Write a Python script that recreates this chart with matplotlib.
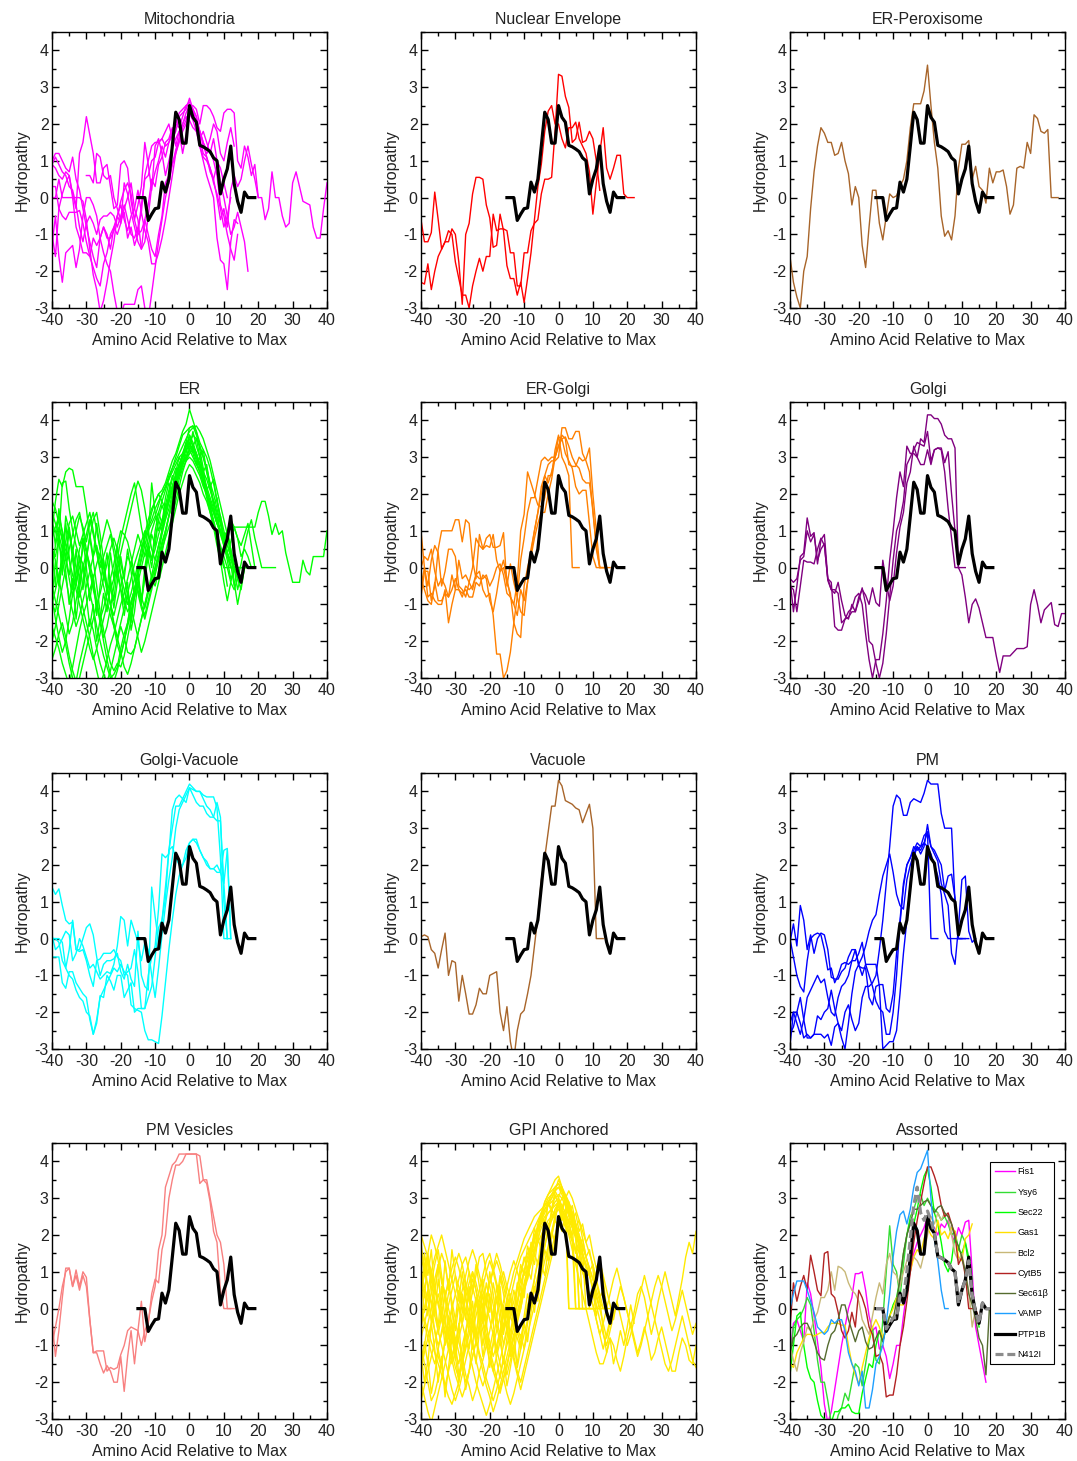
import matplotlib
matplotlib.use('Agg')
import matplotlib.pyplot as plt
from matplotlib.ticker import MultipleLocator
import numpy as np

plt.rcParams['font.family'] = ['Liberation Sans', 'DejaVu Sans']
plt.rcParams['axes.unicode_minus'] = False

# reference profile drawn in every panel (x starts at -15)
ptp1b_start = -15
ptp1b = [0, 0, 0, -0.62, -0.45, -0.3, -0.28, 0.42, 0.15, 0.5, 1.4, 2.32, 2.12, 1.48, 1.48,
         2.5, 2.18, 2.05, 1.42, 1.38, 1.32, 1.25, 1.08, 1.0, 0.1, 0.5, 0.78, 1.4, 0.38, -0.1,
         -0.4, 0.15, 0.0, 0.0, 0.0]
n412i = [0, 0, 0, -0.55, -0.4, -0.25, -0.25, 0.35, 0.3, 1.0, 1.9, 2.8, 3.3, 2.6, 2.4,
         2.65, 2.4, 2.05, 1.42, 1.38, 1.32, 1.25, 1.08, 1.0, 0.15, 0.5, 0.78, 1.3, 0.38, -0.1,
         -0.4, 0.15, 0, 0, 0]

# each profile: (first residue position, hydropathy values at 1-residue steps)
mito = [
    (-40, [1.0, 1.2, 1.2, 1.0, 0.8, 0.7, 1.1, 0.5, 0.2, -0.3, -0.8, -1.2, -1.6, -1.9, -1.1, -0.8, -1.0, -1.4, -0.8, -0.5,
           -0.2, -0.6, -0.9, -0.5, -0.3, 0.2, -0.4, 0.6, 1.0, 1.4, 1.5, 1.5, 1.6, 1.8, 2.0, 1.6, 1.8, 2.2, 2.3, 2.4,
           2.7, 2.4, 2.0, 1.6, 1.2, 1.1, 0.7, 0.5, 0.9, 0.4, 0.0, -0.5, -1.0, -0.8, -0.4, -0.8, -1.2, -2.0]),
    (-40, [0.3, 0.3, -0.3, -0.5, -0.6, -0.4, -0.4, -0.4, -0.35, -0.7, -1.2, -1.6, -1.9, -2.2, -2.4, -1.8, -1.5, -1.0, -0.8, -1.0,
           -0.7, -0.3, 0.0, 0.4, -0.3, -0.6, -1.4, -1.2, -0.5, 0.3, 0.7, 1.0, 1.4, 1.1, 1.5, 1.8, 2.0, 1.9, 2.2, 2.5,
           2.6, 2.3, 2.0, 1.8, 1.4, 1.2, 1.3, 1.0, 0.6, -0.2, -0.5, -1.0, -1.4, -1.7, -1.0]),
    (-40, [-1.3, -0.5, -1.6, -2.3, -1.5, -1.4, -1.3, -1.9, -1.4, -0.5, 0.0, 0.0, -0.2, -0.5, -1.1, -1.5, -1.8, -2.0, -2.6, -3.1,
           -3.2, -2.9, -2.9, -2.9, -2.9, -2.5, -2.4, -3.0, -3.3, -2.6, -1.9, -1.2, -0.6, 0.0, 0.4, 0.9, 1.3, 1.6, 2.0, 2.3,
           2.5, 2.4, 2.2, 1.8, 1.5, 1.1, 0.8, 0.4, 0.1, -0.3, -0.8, -0.5, 0.0]),
    (-40, [0.9, 0.8, 0.6, 0.5, 0.7, 0.6, 0.1, -0.3, 1.2, 1.5, 2.2, 1.7, 1.2, 0.4, 0.4, 0.8, 0.9, 0.3, -0.3, -0.2,
           0.9, 1.0, 0.8, -0.1, -0.6, -0.2, 0.3, 1.5, 0.9, 0.2, 1.4, 1.6, 1.2, 0.6, 1.0, 1.4, 1.6, 1.8, 1.2, 1.7,
           2.3, 2.1, 1.8, 1.4, 1.0, 0.6, 0.3, 0.0, -1.1, -1.7, -1.8, -2.5, -1.2, -0.6, -0.7]),
    (-40, [-1.0, -1.6, -0.3, 0.1, 0.4, 0.6, 0.0, -0.8, -1.1, -1.5, -1.5, -1.6, -1.1, -1.3, -1.1, -0.8, -1.1, -1.1, -0.9, -0.5,
           -0.1, 0.2, 0.4, 0.1, -0.6, -1.0, -0.2, 0.5, 0.6, 1.0, 1.1, 1.5, 1.6, 1.4, 1.5, 1.7, 2.0, 2.3, 2.4, 2.5,
           2.5, 2.5, 2.4, 2.0, 2.5, 2.5, 2.4, 2.2, 1.9, 1.8, 2.3, 2.4, 2.4, 2.3, 1.0, 0.8, 1.4, 1.1, 0.6, 0.9,
           0.0, 0.0, -0.6, -0.3, 0.7, 0.0, 0.0, -0.5, -0.8, -0.7, 0.4, 0.7, 0.3, -0.1, -0.15, -0.2, -0.8, -1.1, -1.1, -0.3, 0.4]),
    (-40, [0.0, 0.0, 0.5, 0.0, 0.0, 0.0, 0.0, 0.0, 0.0, -0.1, -0.6, -1.4, -2.1, -2.5, -3.1, -2.8, -2.3, -1.7, -1.2, -0.5,
           -0.7, 0.4, 0.1, -0.4, -0.8, -1.2, -1.4, -0.6, -0.2, 0.5, 0.3, 0.9, 1.1, 1.5, 1.6, 1.9, 1.4, 1.8, 2.0, 2.2,
           2.1, 1.9, 1.8, 1.6, 1.8, 1.5, 1.2, 1.6, 1.0, 0.8, 0.4, 0.0]),
    (-40, [0.9, 1.1, 0.9, 0.7, 0.6, 0.3, 0.2, -0.2, -0.8, -1.2, -0.7, -0.5, -0.7, -1.0, -0.6, -0.5, -0.5, -0.4, -0.5, -0.8,
           -0.5, -0.2, -0.6, -1.0, -1.1, -0.8, -0.4, -0.9, -1.2, -1.8, -1.8, -1.5, -1.1, -0.6, 0.0, 0.6, 1.2, 1.6, 1.9, 2.1,
           2.4, 2.2, 2.1, 1.8, 1.5, 1.3, 1.6, 2.0, 1.8, 1.2, 1.0, 1.5, 1.9, 1.4]),
    (-30, [0.6, 0.6, 0.4, 1.2, 1.1, 0.6, 0.5, 0.6, 0.0, -0.3, -0.6, -0.4, -1.1, -0.8, -1.3, -1.0, -0.9, -0.6, -1.0, -1.4,
           -1.6, -1.0, -0.5, 0.4, 0.6, 0.9, 1.2, 1.5, 1.8, 2.0, 2.2, 2.4, 2.2, 1.4, 1.1, 1.0, 0.8, 0.5, 0.0, -0.6,
           -0.3, -0.8, 0.2, 0.6, 0.3, 0.5, 1.0, 1.4, 0.9, 0.5, 0.0]),
]

nuclear = [
    (-40, [-0.6, -1.2, -1.2, -0.95, 0.15, -0.6, -1.4, -1.2, -1.2, -0.85, -1.0, -1.75, -2.9, -1.0, -0.7, 0.1, 0.55, 0.55, 0.5, -0.2,
           -0.55, -1.35, -1.3, -0.45, -0.9, -1.85, -2.2, -2.2, -2.65, -2.3, -2.85, -2.2, -1.5, -0.6, 0.3, 0.9, 1.8, 2.35, 2.5, 2.0,
           2.0, 1.6, 1.35, 1.9, 1.9, 2.05, 1.6, 1.4, 1.2, 0.7, -0.45, 0.4, 1.2, 1.9, 0.8, 0.5, 0.8, 1.15, 1.15, 0.1,
           0.0, 0.0, 0.0]),
    (-40, [-2.3, -2.35, -1.8, -2.5, -2.0, -1.6, -1.4, -1.2, -0.9, -1.0, -1.75, -2.2, -2.65, -2.65, -3.0, -2.4, -2.0, -1.65, -2.0, -1.6,
           -1.6, -0.45, -0.9, -0.85, -0.85, -0.9, -1.5, -1.5, -2.4, -2.4, -1.5, -1.5, -0.9, -0.7, -0.6, 0.1, 0.5, 0.5, 0.55, 1.8,
           3.35, 3.3, 2.75, 2.45, 1.5, 1.6, 2.05, 1.5, 1.55, 1.8, 1.6, 1.0, 0.2]),
]

er_perox = [
    (-40, [-1.6, -2.3, -2.7, -3.0, -2.0, -1.6, -0.3, 0.7, 1.4, 1.9, 1.75, 1.5, 1.5, 1.15, 1.2, 1.5, 1.0, 0.65, -0.2, 0.3,
           0.0, -1.3, -1.9, -0.8, 0.2, 0.2, -0.7, -1.15, -0.5, 0.1, 0.0, 0.05, 0.3, 0.5, 1.0, 1.9, 2.55, 2.55, 2.55, 2.9,
           3.6, 2.5, 1.5, 0.8, -0.5, -1.05, -0.9, -1.15, -0.5, 0.8, 1.45, 1.45, 1.55, 0.5, 0.85, 0.3, 0.2, -0.15, 0.8, 0.4,
           0.7, 0.7, 0.75, 0.3, -0.45, -0.2, 0.8, 0.85, 0.8, 1.5, 1.2, 2.25, 2.15, 1.8, 1.75, 1.85, 0.0, 0.0, 0.0]),
]

er = [
    (-40, [1.0, 1.8, 2.4, 2.2, 2.6, 2.7, 2.65, 2.2, 2.2, 2.2, 1.6, 0.8, 0.2, -0.5, -1.2, -1.7, -2.2, -2.6, -2.8, -2.6,
           -2.7, -2.4, -1.9, -1.4, -0.6, 0.0, 0.5, 0.8, 1.1, 1.5, 1.8, 2.0, 2.1, 2.3, 2.6, 2.9, 3.1, 3.4, 3.7, 3.9,
           4.3, 4.0, 3.7, 3.2, 2.7, 2.1, 1.6, 1.2, 0.8, 0.4, 0.0, 0.0, 0.0]),
    (-40, [0.5, 0.3, 0.8, 2.3, 2.35, 1.6, 1.0, 0.6, 0.3, 0.1, -0.3, -0.7, -1.1, -1.6, -2.0, -2.4, -2.7, -3.0, -2.9, -2.7,
           -2.2, -1.8, -1.5, -0.9, -0.6, -0.2, 0.3, 0.8, 1.1, 1.3, 1.6, 1.8, 2.0, 2.2, 2.5, 2.7, 3.0, 3.3, 3.6, 3.7,
           3.8, 3.85, 3.7, 3.4, 3.2, 3.0, 2.7, 2.3, 1.8, 1.4, 1.0, 0.6, 0.3, 0.0, 0.0, 0.0]),
    (-40, [-2.5, -2.2, -1.8, -1.5, -1.9, -2.4, -2.8, -3.1, -2.6, -2.2, -1.8, -1.4, -1.7, -2.2, -2.6, -2.9, -3.1, -2.8, -2.4, -2.0,
           -1.6, -1.9, -2.3, -2.35, -2.2, -1.8, -1.4, -1.0, -0.6, -0.2, 0.2, 0.6, 1.0, 1.4, 1.8, 2.2, 2.5, 2.8, 3.0, 3.2,
           3.4, 3.6, 3.5, 3.3, 3.0, 2.6, 2.2, 1.8, 1.4, 1.0, 0.6, 0.2, -0.3, -0.1, 0.0]),
    (-40, [1.5, 1.2, 0.9, 0.5, 0.7, 1.2, 1.4, 1.0, 0.6, 0.9, 1.2, 1.5, 1.0, 0.5, 0.0, 0.3, 0.6, 0.9, 0.4, -0.2,
           -0.6, -0.9, -1.2, -1.0, -0.6, -0.4, -0.8, -1.1, -0.7, -0.3, 0.0, 0.4, 0.9, 1.3, 1.6, 2.0, 2.3, 2.5, 2.8, 3.0,
           3.2, 3.3, 3.1, 2.8, 2.4, 2.0, 1.6, 1.2, 0.8, 0.4, 0.5, 0.9, 1.1, 1.1, 1.1, 1.1, 1.1, 1.1, 1.1, 1.1,
           1.5, 1.8, 1.8, 1.4, 0.9, 1.2, 0.9, 1.0, 0.4, 0.0, -0.4, -0.4, -0.4, 0.2, -0.1, -0.2, 0.3, 0.3, 0.3, 0.3, 1.0]),
    (-40, [-1.0, -1.2, -0.6, 0.2, 1.4, 1.0, 0.2, -0.4, -0.8, -0.4, 0.3, 0.8, 1.3, 1.5, 0.9, 0.2, -0.5, -1.0, -1.6, -2.1,
           -2.4, -2.0, -1.5, -1.0, -0.6, -0.2, 0.2, 0.6, 1.0, 1.2, 1.4, 1.7, 2.0, 2.2, 2.4, 2.6, 2.8, 3.0, 3.1, 3.3,
           3.5, 3.3, 3.0, 2.8, 2.5, 2.2, 1.9, 1.6, 1.3, 1.0, 0.7, 0.4, 0.2, 0.0, -0.3, -0.6, 0.0, 0.0]),
    (-40, [0.5, 0.2, -0.3, -0.8, -1.3, -1.8, -1.5, -0.9, -0.4, 0.0, 0.4, 0.1, -0.3, -0.9, -1.4, -1.9, -1.6, -1.1, -0.5, 0.2,
           0.8, 1.2, 1.6, 2.0, 2.3, 1.7, 1.1, 0.6, 0.2, -0.3, -0.5, -0.1, 0.4, 0.9, 1.4, 1.9, 2.3, 2.6, 2.9, 3.0,
           3.1, 3.2, 2.9, 2.6, 2.3, 1.9, 1.5, 1.1, 0.6, 0.2, -0.4, -0.9, -0.4, 0.0]),
    (-40, [-0.8, -1.4, -1.9, -2.3, -2.0, -1.4, -0.7, -0.1, 0.5, 0.8, 0.4, -0.1, -0.6, -1.0, -1.4, -1.1, -0.7, -0.3, 0.1, 0.6,
           1.0, 0.9, 0.7, 0.3, -0.2, -0.6, -1.0, -1.3, -0.9, -0.5, -0.1, 0.3, 0.7, 1.0, 1.4, 1.7, 2.0, 2.4, 2.7, 2.9,
           3.0, 2.9, 2.7, 2.5, 2.2, 2.0, 1.7, 1.5, 1.2, 1.0, 0.7, 0.4, 0.7, 1.1, 0.8, 0.3, 0.5, 0.3, 0.0]),
    (-40, [1.2, 1.0, 0.6, 0.3, 0.5, 0.9, 0.5, 0.0, -0.6, -1.1, -1.5, -1.9, -2.4, -2.8, -3.2, -2.9, -2.5, -2.1, -1.8, -1.4,
           -1.0, -0.7, -0.3, 0.1, 0.5, 0.9, 0.6, 0.3, 0.6, 1.0, 1.3, 1.5, 1.8, 2.1, 2.4, 2.7, 2.9, 3.1, 3.3, 3.5,
           3.7, 3.8, 3.85, 3.7, 3.5, 3.2, 2.9, 2.5, 2.1, 1.7, 1.3, 0.9, 0.5, 0.1, 0.0, 0.0]),
    (-40, [0.0, 0.6, 1.1, 0.8, 0.3, -0.2, 0.4, 1.0, 1.4, 1.1, 0.7, 1.2, 1.5, 1.0, 0.5, 0.9, 1.3, 1.0, 0.6, 0.2,
           -0.2, -0.6, -1.0, -0.7, -0.3, 0.1, 0.5, 0.9, 1.3, 1.6, 1.8, 2.0, 1.8, 1.6, 1.9, 2.2, 2.5, 2.8, 3.0, 3.3,
           3.4, 3.2, 3.0, 2.7, 2.4, 2.1, 1.8, 1.5, 1.2, 0.9, 0.6, 0.3, 0.0, 0.0, 0.0]),
    (-40, [-1.6, -1.9, -2.2, -2.6, -2.9, -3.2, -2.7, -2.2, -1.7, -1.3, -1.0, -0.6, -0.3, 0.1, 0.4, 0.0, -0.5, -1.0, -1.5, -1.9,
           -2.3, -2.7, -2.9, -2.6, -2.2, -1.8, -1.4, -1.0, -0.6, -0.3, 0.0, 0.3, 0.5, 0.8, 1.1, 1.4, 1.8, 2.2, 2.6, 2.9,
           3.1, 3.3, 3.1, 2.8, 2.5, 2.1, 1.7, 1.3, 0.9, 0.5, 0.1, -0.5]),
    (-40, [1.8, 1.6, 1.2, 0.7, 0.2, -0.3, -0.8, -0.4, 0.0, 0.5, 0.9, 1.3, 0.9, 0.4, -0.1, -0.5, -0.9, -1.3, -1.6, -1.9,
           -1.5, -1.1, -0.7, -0.3, 0.1, 0.4, 0.7, 1.0, 0.6, 0.2, 0.5, 0.9, 1.2, 1.5, 1.8, 2.1, 2.4, 2.6, 2.8, 3.0,
           3.2, 3.0, 2.8, 2.6, 2.3, 2.0, 1.8, 1.5, 1.2, 1.0, 0.8, 1.0, 1.3, 1.1, 0.8, 0.6, 0.9, 1.2, 0.6, 0.0]),
    (-40, [-2.0, -1.6, -1.0, -0.5, 0.0, 0.5, 0.9, 1.3, 1.5, 1.0, 0.5, 0.0, -0.5, -1.0, -1.5, -2.0, -2.5, -2.9, -3.1, -2.8,
           -2.4, -2.0, -1.6, -1.2, -0.8, -0.4, 0.0, 0.4, 0.8, 2.3, 1.5, 1.0, 1.3, 1.6, 1.9, 2.2, 2.5, 2.8, 3.0, 3.2,
           3.3, 3.2, 3.0, 2.8, 2.6, 2.4, 2.1, 1.8, 1.5, 1.2, 0.8, 0.4, 0.0, 0.0]),
    (-40, [-0.5, -0.9, -1.3, -1.7, -2.1, -2.6, -3.0, -3.3, -3.0, -2.6, -2.2, -1.8, -1.4, -1.0, -0.7, -0.3, 0.1, 0.5, 0.8, 0.5,
           0.1, -0.3, -0.7, -1.1, -1.5, -1.9, -2.3, -2.0, -1.6, -1.2, -0.8, -0.4, 0.0, 0.4, 0.8, 1.2, 1.6, 2.0, 2.3, 2.6,
           2.8, 2.7, 2.5, 2.3, 2.0, 1.8, 1.5, 1.2, 0.9, 0.6, 0.3, 0.0, -0.4, -0.6, -0.3, 0.1, 0.6, 1.0, 1.3, 0.8,
           0.4, 0.0, 0.0, 0.0, 0.0, 0.0]),
    (-40, [0.8, 1.1, 1.4, 1.0, 0.6, 0.2, -0.2, -0.6, -1.0, -1.4, -1.8, -2.2, -2.5, -2.2, -1.8, -1.4, -1.0, -0.6, -0.3, 0.0,
           0.4, 0.8, 1.2, 1.6, 2.0, 2.35, 2.1, 1.6, 1.0, 0.5, 0.2, 0.6, 1.0, 1.4, 1.8, 2.1, 2.4, 2.7, 3.0, 3.4,
           3.8, 3.85, 3.6, 3.3, 3.0, 2.7, 2.3, 2.0, 1.6, 1.2, 0.8, 0.4, 0.1, -0.5, 0.0]),
    (-40, [-1.0, -0.6, -0.2, 0.2, -0.3, -0.8, -1.2, -1.6, -1.3, -0.9, -0.5, -0.1, 0.3, 0.6, 0.2, -0.2, -0.6, -1.0, -1.3, -0.9,
           -0.5, -0.1, 0.3, 0.1, -0.3, -0.7, -1.1, -1.4, -1.0, -0.6, -0.2, 0.2, 0.6, 1.0, 1.4, 1.8, 2.2, 2.5, 2.8, 3.1,
           3.6, 3.4, 3.1, 2.8, 2.4, 2.0, 1.6, 1.2, 0.8, 0.4, 0.0]),
    (-40, [0.4, -0.5, 0.9, -0.2, 1.2, 0.3, -0.6, 0.5, -0.4, 0.8, 0.0, -0.9, -0.2, -1.3, -0.5, 0.2, -0.7, 0.4, -0.3, 0.6,
           -0.2, -1.0, -0.4, -1.5, -0.8, -0.1, -0.9, 0.0, 0.6, 0.2, 1.0, 1.5, 1.2, 1.9, 2.3, 2.0, 2.6, 3.0, 2.8, 3.3,
           3.6, 3.3, 3.5, 3.0, 2.6, 2.8, 2.2, 1.7, 1.9, 1.3, 0.8, 1.0, 0.4, 0.0, -0.6, -0.2, 0.0]),
    (-40, [-0.9, 0.2, -0.5, 0.6, -0.1, -1.0, -0.3, -1.4, -0.6, 0.1, -0.8, -1.6, -1.0, -2.0, -1.4, -0.7, -1.2, -0.3, -0.9, 0.0,
           -0.6, -1.3, -0.7, -1.7, -1.2, -0.4, -1.0, -0.2, 0.5, 0.0, 0.8, 1.3, 1.0, 1.7, 2.1, 2.5, 2.2, 2.8, 3.1, 2.9,
           3.4, 3.1, 2.8, 3.0, 2.5, 2.1, 2.3, 1.7, 1.2, 1.4, 0.8, 1.0, 0.5, -0.4, -1.0, -0.5, 0.0]),
    (-40, [1.3, 0.6, 1.6, 0.9, 0.2, 1.1, 0.4, -0.4, 0.3, -0.6, 0.2, 0.9, 0.3, 1.2, 0.5, -0.3, 0.4, -0.5, -1.1, -0.4,
           0.3, -0.3, 0.5, -0.1, -0.8, -0.2, -0.9, -0.3, 0.3, 0.9, 0.6, 1.3, 1.7, 1.4, 2.0, 2.4, 2.7, 2.5, 3.1, 3.4,
           3.2, 3.7, 3.3, 3.0, 3.2, 2.6, 2.2, 2.4, 1.8, 1.3, 0.7, 0.9, 0.3, 0.0, 0.0, 0.0, 0.0, 0.0]),
]

er_golgi = [
    (-40, [1.0, 0.0, -0.5, 0.2, 0.6, 0.4, -0.5, -0.1, 0.5, 0.5, 0.3, -0.5, -0.6, -0.8, -0.4, 0.0, 0.8, 0.6, 0.5, 0.6,
           0.55, 0.9, 0.2, -0.1, 0.2, -0.3, -0.8, -1.0, -0.4, 1.0, 1.45, 2.6, 2.3, 2.0, 1.7, 1.65, 1.9, 2.5, 2.5, 3.2,
           3.6, 3.0, 2.8, 2.5, 0.0, 0.0, 0.0]),
    (-40, [-0.8, -0.1, -0.1, -0.9, -0.5, 0.5, 1.0, 1.0, 1.0, 1.0, 1.3, 1.3, 0.7, 1.3, 1.2, 0.2, -0.3, 0.9, 0.5, 0.8,
           0.9, 0.55, 0.55, 0.6, 0.95, -0.5, 0.1, -0.4, -0.8, -1.2, -1.3, -0.4, 0.5, 1.0, 1.5, 2.0, 2.5, 2.8, 2.9, 2.9,
           3.0, 3.8, 3.8, 3.5, 3.5, 3.7, 3.7, 3.1, 2.9, 2.6, 1.5, 0.6, 0.0, 0.0]),
    (-40, [-0.5, 0.0, -0.8, -0.7, -0.9, -1.0, -1.0, -0.6, -1.5, -1.0, -0.6, -0.6, -0.7, -0.6, -0.8, -0.8, -0.4, -0.5, -0.2, -0.3,
           -0.9, -1.2, -0.7, -0.1, 0.0, -0.4, -0.7, -1.5, -1.8, -1.9, -0.5, 0.0, 0.4, 1.0, 1.5, 2.2, 2.5, 2.3, 2.6, 3.0,
           3.55, 3.5, 3.55, 3.3, 3.0, 2.8, 2.7, 2.4, 2.3, 2.3, 1.6, 0.5, 0.0, 0.0, 0.0]),
    (-40, [0.0, 0.3, 0.2, 0.5, -0.1, -0.5, -0.3, -0.5, -0.8, -0.2, -0.6, 0.2, -0.3, -0.2, -0.4, -0.6, -0.2, -0.3, -0.3, -0.2,
           -0.5, -0.3, 0.0, 0.1, -0.2, -0.7, -0.8, -1.0, -1.3, -0.6, -0.9, -0.4, 0.3, 0.8, 1.2, 1.5, 1.5, 2.0, 2.4, 3.0,
           3.3, 3.6, 3.5, 2.8, 2.75, 2.75, 3.0, 2.9, 2.95, 3.25, 2.0, 1.0, 0.0, 0.0, 0.0, 0.0]),
    (-40, [-0.3, -0.6, -0.9, -1.0, -0.4, -0.9, -0.9, -0.7, -0.8, -0.6, -0.3, -0.6, -0.8, -0.5, -0.6, -0.5, -0.2, -0.1, -0.6, -0.8,
           -0.7, -1.3, -2.35, -2.35, -3.0, -2.8, -2.3, -1.5, -0.8, 0.2, 0.8, 1.5, 1.9, 1.9, 2.4, 2.9, 3.0, 2.9, 3.0, 3.0,
           3.3, 3.5, 3.1, 2.9, 2.7, 2.2, 2.0, 2.1, 2.1, 1.2, 0.3, 0.0, 0.0]),
]

golgi = [
    (-40, [-0.3, -1.2, -0.5, 0.3, 0.4, 1.35, 0.85, 0.95, 0.1, 0.75, 0.9, -0.3, -0.4, -1.6, -1.7, -1.7, -1.4, -1.35, -1.2, -1.2,
           -0.9, -0.55, -1.0, -2.0, -2.1, -2.6, -3.0, -2.6, -1.8, -0.8, 0.2, 1.0, 1.3, 1.8, 2.8, 3.0, 3.2, 3.4, 3.35, 3.3,
           3.7, 2.9, 3.2, 3.25, 3.25, 2.85, 3.15, 2.0, 1.0, 0.0, -0.2, -0.8, -1.5, -1.0, -0.85, -1.1, -1.5, -1.9, -1.9, -1.9,
           -2.4, -2.85, -2.4, -2.4, -2.4, -2.3, -2.2, -2.2, -2.2, -2.15, -1.0, -0.6, -1.0, -1.5, -1.15, -1.05, -0.95, -1.55, -1.6, -1.25, -1.25]),
    (-40, [-0.5, -0.6, -1.2, -0.5, 0.2, 0.15, 0.15, 0.1, 0.5, 0.8, 0.6, -0.3, -0.6, -0.6, -0.7, -1.5, -1.4, -1.2, -1.1, -0.8,
           -0.7, -1.0, -1.8, -2.5, -3.0, -2.5, -2.5, -1.8, -0.9, 0.2, 1.0, 1.9, 2.6, 2.2, 3.3, 3.1, 3.1, 3.0, 3.5, 3.4,
           4.15, 4.15, 4.05, 4.05, 3.9, 3.6, 3.5, 3.5, 3.25, 0.0]),
    (-40, [-0.3, -0.4, -0.3, 0.2, 0.3, 1.0, 0.7, 0.9, 0.2, 0.5, 0.65, -0.35, -0.6, -0.7, -0.4, -0.9, -1.3, -1.4, -1.0, -1.2,
           -0.8, -0.6, -0.75, -1.0, -0.55, -0.95, -1.05, 0.2, -0.4, -0.9, -0.5, 0.4, 1.1, 1.5, 2.3, 2.6, 3.3, 3.0, 2.8, 2.8,
           3.2, 2.8, 3.2, 3.25, 3.2, 2.6, 1.6, 0.8, 0.0, 0.0, 0.0, 0.0]),
]

golgi_vac = [
    (-40, [1.4, 1.2, 1.35, 0.9, 0.5, 0.4, 0.45, -0.3, -0.35, -0.3, -0.6, -1.0, -1.3, -0.6, -0.55, -0.4, -0.4, -0.4, -0.3, -0.5,
           -0.6, -1.0, -0.9, -0.8, -0.3, -0.9, -1.9, -1.9, -1.0, -0.5, -0.2, 0.8, 2.3, 2.2, 2.3, 3.5, 3.8, 3.9, 3.8, 4.0,
           4.2, 4.1, 4.0, 4.0, 3.9, 3.85, 3.85, 3.85, 3.55, 2.2, 0.0, 0.0, 0.0]),
    (-40, [0.0, 0.0, 0.0, -0.1, -0.8, -0.3, 0.5, -0.3, -0.3, 0.0, 0.3, 0.4, 0.1, -0.5, -1.0, -0.7, -0.6, -0.6, -0.55, -0.4,
           -0.9, -1.1, -0.7, -1.1, -1.3, 0.2, -1.0, -1.3, -1.4, 1.4, 0.6, -0.1, 0.5, 1.1, 2.4, 2.5, 2.2, 2.0, 2.0, 2.2,
           2.6, 2.7, 2.7, 2.4, 2.2, 2.1, 1.9, 1.9, 2.0, 1.8, 1.5, 2.4, 0.0]),
    (-40, [-0.5, -0.5, -0.5, -1.2, -1.35, -0.9, -0.9, -1.2, -1.35, -1.5, -1.6, -2.2, -2.6, -2.3, -1.55, -1.6, -1.0, -1.15, -1.4, -1.0,
           -1.0, -1.6, -1.4, -1.2, -2.0, -1.9, -1.9, -1.9, -1.6, -1.3, -0.5, 0.3, 0.5, 1.4, 2.4, 3.0, 3.6, 3.6, 3.8, 3.7,
           4.1, 3.9, 3.7, 3.6, 3.6, 3.4, 3.3, 3.3, 3.7, 3.3, 1.0, 0.0]),
    (-40, [0.0, 0.0, -0.1, -0.6, -0.8, -1.0, -1.1, -1.4, -1.6, -1.7, -2.0, -2.1, -2.6, -2.2, -1.6, -1.4, -1.2, -1.0, -0.8, -0.9,
           -0.7, -0.9, -1.0, -1.8, -1.9, -1.95, -2.0, -2.5, -2.75, -2.75, -2.8, -2.85, -2.1, -1.2, -0.3, 0.5, 1.2, 1.7, 2.0, 2.4,
           2.6, 2.7, 2.6, 2.4, 2.2, 2.0, 1.9, 1.9, 1.8, 1.8, 2.4, 2.45, 0.0]),
    (-40, [0.1, -0.3, -0.2, 0.0, 0.2, 0.1, -0.6, -0.4, 0.0, -0.2, -0.5, -0.8, -0.7, -0.9, -1.1, -1.0, -0.9, -0.95, -0.7, -0.2,
           0.6, 0.5, -0.2, 0.5, 0.2, -0.1, -0.6, -0.1, -0.3, -1.0, -1.6, -0.8, 0.1, 0.9, 1.6, 2.2, 3.0, 3.5, 3.7, 3.9,
           4.1, 4.05, 4.0, 4.0, 3.8, 3.6, 3.5, 3.3, 3.2, 3.2, 1.5, 0.0]),
]

vacuole = [
    (-40, [0.05, 0.1, 0.05, -0.3, -0.4, -0.8, -0.3, 0.15, -1.0, -0.6, -0.65, -1.7, -1.0, -1.5, -2.05, -2.05, -1.8, -1.35, -1.5, -1.5,
           -1.0, -0.95, -0.9, -2.0, -2.5, -1.85, -2.8, -3.3, -2.5, -2.05, -1.95, -1.5, -1.0, -0.2, 0.6, 1.6, 2.2, 2.9, 3.6, 3.6,
           4.3, 4.15, 3.75, 3.7, 3.65, 3.55, 3.5, 3.15, 3.4, 3.65, 3.0, 0.0, 0.0, 0.0]),
]

pm = [
    (-40, [-0.1, 0.4, -0.2, 0.9, 0.5, -0.3, 0.1, -0.4, 0.0, 0.15, 0.1, -0.3, -1.05, -1.1, -1.1, -0.9, -0.8, -0.5, -0.3, -0.3,
           -0.7, -0.5, -0.2, 0.2, 0.5, 0.65, 1.2, 1.7, 2.0, 2.3, 1.8, 1.2, 0.9, 0.8, 1.6, 2.0, 2.3, 2.5, 2.4, 2.6,
           2.9, 0.0, 0.0, 0.0]),
    (-40, [-2.9, -2.0, -2.0, -2.3, -2.7, -2.6, -2.7, -2.6, -2.6, -2.6, -2.7, -2.6, -2.9, -2.4, -2.3, -2.5, -2.0, -1.8, -2.2, -2.5,
           -2.3, -1.6, -1.3, -1.3, -1.2, -1.0, -0.3, 0.5, 1.5, 2.5, 3.6, 3.9, 3.8, 3.35, 3.35, 3.7, 3.8, 3.75, 3.7, 3.95,
           4.3, 4.2, 4.2, 4.2, 3.4, 3.0, 3.0, 3.0, 1.0, 0.0, 0.0, 0.0, 0.0]),
    (-40, [0.0, -0.5, -1.0, -1.3, -1.45, -0.6, 0.0, 0.1, 0.15, 0.1, -0.3, -0.85, -0.8, -1.2, -1.0, -0.7, -0.65, -0.7, -0.6, -0.3,
           -0.75, -0.8, -0.8, -1.6, -1.8, -1.3, -1.25, -1.25, -1.9, -2.0, -1.5, -0.4, 0.4, 1.4, 2.0, 2.2, 2.5, 2.4, 2.5, 2.6,
           2.5, 2.3, 2.0, 1.7, 1.2, 0.2, 0.0, 0.0, 0.0, 0.0, 0.0]),
    (-40, [-2.6, -2.4, -2.0, -1.6, -2.2, -2.7, -2.7, -2.6, -2.1, -2.2, -2.0, -1.9, -1.4, -1.9, -2.3, -2.7, -3.0, -2.3, -1.5, -0.9,
           -0.7, -1.0, -0.7, -0.7, -0.7, -0.7, -1.3, -3.0, -2.9, -2.8, -2.8, -2.5, -1.5, -0.4, 0.5, 1.5, 2.2, 2.5, 2.3, 2.5,
           3.1, 2.5, 2.3, 2.1, 1.5, 1.2, 0.9, -0.4, -0.7, 0.3, 1.6, 1.7, 0.2, -0.1, 0.0]),
    (-40, [-2.3, -2.0, -2.3, -2.6, -2.2, -1.6, -1.4, -1.2, -1.0, -1.2, -1.1, -1.6, -2.0, -2.1, -1.6, -1.3, -1.2, -1.0, -0.6, -0.6,
           -0.4, -0.1, -0.7, -1.0, -1.3, -1.7, -1.9, -2.0, -2.6, -2.6, -2.0, -1.0, 0.5, 1.5, 2.0, 2.2, 2.4, 2.6, 2.5, 2.8,
           2.9, 2.5, 2.4, 2.2, 2.0, 1.3, 1.7, 1.75, 1.1, 0.0, 0.0, 0.0]),
]

pm_ves = [
    (-40, [-0.3, -1.3, -0.6, 0.3, 1.1, 1.1, 0.6, 1.05, 0.6, 1.0, 0.85, -0.3, -1.2, -1.15, -1.15, -1.15, -1.7, -1.6, -1.65, -1.6,
           -1.25, -1.0, -0.6, -0.5, -0.55, -0.6, -1.0, -0.6, -0.35, 0.2, 0.6, 1.6, 2.0, 3.3, 3.6, 3.9, 4.0, 4.2, 4.2, 4.2,
           4.2, 4.2, 4.2, 3.4, 3.5, 3.4, 2.9, 2.1, 1.8, 0.5, 0.0, 0.0, 0.0]),
    (-40, [-1.0, -0.5, 0.0, 0.6, 1.0, 1.1, 0.6, 0.9, 0.5, 0.9, 0.6, -0.3, -1.2, -1.2, -1.5, -1.75, -1.55, -1.7, -2.0, -2.0,
           -1.3, -2.25, -1.3, -0.6, -1.5, -0.6, 0.2, -0.9, -0.4, 0.4, 0.8, 0.7, 1.6, 2.0, 3.0, 3.5, 3.9, 3.9, 4.0, 4.2,
           4.2, 4.2, 4.2, 4.15, 3.5, 3.5, 3.0, 2.5, 2.0, 1.8, 1.2, 0.0, 0.0, 0.0]),
]

gpi = [
    (-40, [1.6, 1.2, 0.6, 0.1, -0.6, -1.3, -1.6, -2.1, -2.4, -2.6, -2.3, -2.0, -1.4, -1.0, -0.5, -0.2, 0.3, 0.0, -0.4, -0.9,
           -1.2, -1.7, -2.0, -2.3, -1.9, -1.6, -1.1, -0.8, -0.3, 0.0, 0.5, 0.8, 1.3, 1.6, 2.1, 2.4, 2.9, 3.1, 3.3, 3.5,
           3.6, 3.3, 3.0, 2.6, 2.3, 2.0, 0.0]),
    (-40, [0.5, 1.1, 1.5, 2.0, 1.7, 1.3, 0.7, 0.3, -0.3, -0.7, -1.2, -1.5, -1.0, -0.6, -0.1, 0.5, 0.9, 1.4, 1.5, 1.0,
           0.6, 0.1, -0.5, -0.9, -1.4, -1.8, -1.4, -1.0, -0.4, 0.0, 0.5, 1.1, 1.4, 1.8, 2.2, 2.4, 2.7, 2.8, 3.0, 3.2,
           3.3, 3.1, 2.9, 2.6, 2.3, 2.0, 1.7, 1.4, 1.1, 0.0, 0.0, 0.0, 0.0]),
    (-40, [-1.5, -1.0, -0.4, 0.0, 0.5, 1.1, 1.5, 1.2, 0.6, 0.2, -0.3, -0.9, -1.3, -1.8, -2.1, -2.5, -2.2, -1.7, -1.4, -1.0,
           -0.6, -0.1, 0.2, 0.7, 1.0, 0.6, 0.3, -0.1, -0.5, -0.8, -0.4, 0.1, 0.4, 0.8, 1.3, 1.6, 2.0, 2.3, 2.4, 2.7,
           2.8, 2.6, 2.3, 2.0, 1.6, 1.2, 0.8, 0.4, 0.0, -0.4, -0.8, -1.2, -1.5, -1.5, -1.2, -0.8, -1.0, -1.4, -1.7, -1.3,
           -0.8, -0.4, -0.8, -1.2, -0.9, -0.5, -0.9, -1.4, -1.2, -0.8, -0.5, -0.9, -1.3, -1.7, -1.7, -1.2, -0.8, -1.0, -1.4, -1.5, -1.0]),
    (-40, [0.0, -0.4, -0.8, -1.2, -1.5, -1.1, -0.6, -0.1, 0.4, 0.8, 1.2, 1.5, 1.2, 0.7, 0.2, -0.3, -0.8, -1.2, -1.5, -1.9,
           -2.2, -2.5, -2.2, -1.8, -1.4, -1.0, -0.6, -0.2, 0.2, 0.6, 1.0, 1.4, 1.7, 2.0, 2.2, 2.4, 2.6, 2.8, 2.9, 3.0,
           3.1, 3.0, 2.8, 2.5, 2.2, 1.9, 1.5, 1.1, 0.7, 0.3, 0.6, 1.0, 1.3, 0.9, 0.5, 0.1, -0.3, 0.2, 0.6, 0.3,
           -0.1, -0.5, -0.1, 0.4, 0.6, 0.3, -0.2, -0.7, -0.3, 0.2, 0.6, 1.0, 0.6, 0.2, -0.2, 0.3, 0.8, 1.4, 1.8, 1.5, 2.1]),
    (-40, [-1.0, -1.5, -2.0, -2.5, -2.3, -1.9, -1.4, -0.9, -0.4, 0.0, 0.4, 0.8, 1.2, 1.4, 1.0, 0.6, 0.2, -0.2, -0.6, -1.0,
           -1.4, -1.7, -1.3, -0.9, -0.5, -0.1, 0.3, 0.7, 1.1, 1.4, 1.6, 1.8, 2.0, 2.2, 2.4, 2.6, 2.8, 3.0, 3.1, 3.2,
           3.3, 3.2, 3.0, 2.7, 2.4, 2.1, 1.8, 1.5, 1.2, 0.9, 0.5, 0.1, -0.3, -0.7, -1.0, -0.6, -0.2, 0.2, -0.2, -0.6,
           -1.0, -0.7, -0.3, 0.1, 0.5, 0.9, 0.5, 0.1, -0.3, -0.7, -1.1, -1.5, -1.7, -1.4, -1.0, -0.6, -0.2, -0.6, -1.0, -1.4, -1.6]),
    (-40, [2.0, 1.7, 1.4, 1.0, 0.6, 0.2, -0.2, -0.6, -1.0, -1.4, -1.8, -2.1, -2.4, -2.1, -1.7, -1.3, -0.9, -0.5, -0.1, 0.3,
           0.7, 1.0, 1.3, 1.0, 0.6, 0.2, -0.2, -0.5, -0.8, -1.1, -0.7, -0.3, 0.1, 0.5, 0.9, 1.3, 1.7, 2.1, 2.4, 2.7,
           2.9, 2.7, 2.4, 2.1, 1.8, 0.0, 0.0, 0.0, 0.0]),
    (-40, [-2.0, -2.4, -2.8, -3.1, -2.7, -2.3, -1.9, -1.5, -1.1, -0.7, -0.3, 0.1, 0.5, 0.9, 1.3, 1.6, 1.3, 0.9, 0.5, 0.1,
           -0.3, -0.7, -1.1, -1.5, -1.9, -2.3, -2.6, -2.3, -1.9, -1.5, -1.1, -0.7, -0.3, 0.1, 0.5, 0.9, 1.3, 1.7, 2.1, 2.5,
           2.8, 3.0, 3.1, 2.9, 2.6, 2.3, 2.0, 1.7, 1.4, 1.1, 0.8, 0.4, 0.0]),
    (-40, [1.0, 0.6, 0.2, -0.2, -0.6, -1.0, -0.7, -0.3, 0.1, 0.5, 0.9, 0.6, 0.2, -0.2, -0.6, -1.0, -1.4, -1.8, -2.1, -1.8,
           -1.4, -1.0, -0.6, -0.2, 0.2, 0.6, 1.0, 1.3, 1.0, 0.7, 1.0, 1.3, 1.6, 1.9, 2.2, 2.5, 2.7, 2.9, 3.1, 3.3,
           3.4, 3.2, 3.0, 2.7, 2.4, 2.1, 1.8, 1.5, 1.2, 0.9, 0.6, 0.3, 0.0, -0.4, -0.8, -0.4]),
    (-40, [-0.5, 0.0, 0.5, 1.0, 1.4, 1.7, 2.0, 1.6, 1.2, 0.8, 0.4, 0.0, -0.4, -0.8, -1.2, -1.6, -2.0, -2.3, -2.6, -2.9,
           -2.6, -2.2, -1.8, -1.4, -1.0, -0.6, -0.2, 0.2, 0.6, 1.0, 1.3, 1.5, 1.7, 1.9, 2.1, 2.3, 2.5, 2.6, 2.7, 2.9,
           3.0, 2.8, 2.6, 2.4, 2.2, 2.0, 1.8, 0.0, 0.0]),
    (-40, [-1.6, -1.2, -0.8, -0.4, 0.0, 0.4, 0.0, -0.4, -0.8, -1.2, -1.6, -1.9, -1.5, -1.1, -0.7, -0.3, 0.1, 0.5, 0.9, 1.3,
           1.5, 1.1, 0.7, 0.3, -0.1, -0.5, -0.9, -1.3, -1.7, -2.0, -1.6, -1.2, -0.8, -0.4, 0.0, 0.4, 0.8, 1.2, 1.6, 2.0,
           2.4, 2.7, 3.0, 3.2, 3.0, 2.7, 2.4, 2.1, 1.8, 1.5, 1.2, 0.8, 0.4, 0.0]),
    (-40, [0.5, 0.9, 1.3, 0.9, 0.5, 0.1, -0.3, -0.7, -1.1, -1.5, -1.2, -0.8, -0.4, 0.0, 0.4, 0.8, 0.5, 0.1, -0.3, -0.7,
           -1.1, -1.5, -1.9, -2.2, -1.9, -1.5, -1.1, -0.7, -0.3, 0.1, 0.5, 0.9, 1.2, 1.5, 1.8, 2.0, 2.2, 2.4, 2.5, 2.6,
           2.7, 2.5, 2.3, 2.1, 1.9, 1.6, 1.3, 1.0, 0.7, 0.4, 0.1, -0.3, -0.7, -1.1, -0.7, -0.3]),
    (-40, [-2.5, -2.1, -1.7, -1.3, -0.9, -0.5, -0.1, 0.3, 0.7, 1.1, 1.4, 1.1, 0.7, 0.3, -0.1, -0.5, -0.9, -1.3, -1.7, -2.1,
           -2.4, -2.8, -2.5, -2.1, -1.7, -1.3, -0.9, -0.5, -0.1, 0.3, 0.7, 1.1, 1.5, 1.9, 2.3, 2.6, 2.9, 3.1, 3.2, 3.3,
           3.4, 3.2, 3.0, 0.0, 0.0, 0.0]),
    (-40, [1.4, 1.0, 0.6, 0.2, -0.2, -0.6, -1.0, -1.4, -1.8, -2.2, -2.5, -2.2, -1.8, -1.4, -1.0, -0.6, -0.2, 0.2, 0.6, 1.0,
           1.3, 1.0, 0.6, 0.2, -0.2, -0.6, -1.0, -1.4, -1.8, -2.2, -1.8, -1.4, -1.0, -0.6, -0.2, 0.2, 0.6, 1.0, 1.4, 1.8,
           2.2, 2.5, 2.7, 2.8, 2.6, 2.3, 2.0, 1.7, 1.4, 1.1, 0.8, 0.5, 0.2, 0.0, 0.0]),
    (-40, [0.0, -0.3, -0.6, -0.9, -1.2, -1.5, -1.8, -2.1, -1.7, -1.3, -0.9, -0.5, -0.1, 0.3, 0.7, 1.0, 0.7, 0.3, -0.1, -0.5,
           -0.9, -1.3, -1.0, -0.6, -0.2, 0.2, 0.6, 1.0, 1.3, 1.6, 1.9, 2.1, 2.3, 2.5, 2.6, 2.7, 2.8, 2.9, 3.0, 3.2,
           3.5, 3.3, 3.1, 2.8, 2.5, 2.2, 1.9, 1.6, 0.0, 0.0, 0.0]),
    (-40, [-0.8, -0.4, 0.0, 0.4, 0.8, 1.2, 0.8, 0.4, 0.0, -0.4, -0.8, -1.2, -1.6, -2.0, -1.7, -1.3, -0.9, -0.5, -0.1, 0.3,
           0.7, 1.1, 1.5, 1.2, 0.8, 0.4, 0.0, -0.4, -0.2, 0.2, 0.6, 1.0, 1.3, 1.6, 1.9, 2.2, 2.4, 2.6, 2.7, 2.8,
           2.9, 2.7, 2.5, 2.2, 1.9, 1.6, 1.3, 1.0, 0.7, 0.4, 0.1, -0.3, -0.7, -0.4, 0.0, 0.4, 0.8, 1.1, 0.7, 0.3,
           -0.1, -0.5, -0.9, -1.3, -1.0, -0.6, -0.2, 0.2, 0.6, 0.9, 0.6, 0.2, -0.2, -0.6, -0.3, 0.1, 0.5, 0.1, -0.3, -0.7, -0.4]),
    (-40, [0.2, 1.5, 0.9, 1.6, 0.4, 1.2, -0.3, 0.5, -0.8, 0.1, -1.2, -0.4, -1.6, -0.7, -0.2, -1.1, 0.3, -0.5, 0.8, 0.1,
           1.0, 0.4, -0.3, 0.6, -0.6, 0.2, -0.9, -0.1, 0.5, 1.2, 0.9, 1.7, 1.4, 2.2, 1.8, 2.5, 2.2, 2.9, 2.6, 3.1,
           2.8, 2.4, 2.6, 0.0, 0.0, 0.0, 0.0, 0.0, 0.0, 0.0, 0.0]),
    (-40, [-1.8, -0.9, -1.5, -0.4, -1.1, -2.0, -1.3, -2.4, -1.6, -0.8, -1.4, -0.5, 0.4, -0.3, 0.6, -0.2, -1.0, -0.4, -1.3, -0.7,
           -1.6, -0.9, -0.2, -0.8, 0.1, -0.5, 0.4, -0.2, 0.7, 0.3, 1.1, 0.8, 1.5, 1.2, 1.9, 1.6, 2.3, 2.0, 2.6, 2.4,
           2.9, 2.5, 2.2, 2.4, 1.9, 1.5, 1.7, 1.2, 0.8, 1.0, 0.5, -0.2, 0.3, -0.6, -1.2, -0.8, -1.5, -1.1, -0.6, -1.0,
           -0.5, 0.1, -0.4]),
    (-40, [1.1, 0.3, 1.4, 0.6, -0.2, 0.8, 0.1, 1.3, 0.5, 1.6, 0.9, 0.2, 1.0, 0.3, -0.5, 0.2, -0.7, -0.1, -1.0, -0.3,
           0.4, -0.4, -1.2, -0.6, -1.5, -0.8, -0.1, 0.5, 0.1, 0.9, 1.4, 1.0, 1.8, 1.5, 2.1, 2.6, 2.3, 2.9, 2.7, 3.2,
           3.0, 3.3, 2.9, 2.6, 2.8, 2.3, 0.0, 0.0, 0.0, 0.0, 0.0]),
    (-40, [-0.6, 0.5, -0.2, 0.9, 0.2, -0.5, 0.6, -0.3, -1.1, -0.4, -1.3, -2.0, -1.4, -2.2, -1.7, -0.9, -1.5, -0.6, 0.1, -0.5,
           0.3, -0.3, 0.6, 0.0, -0.7, -0.1, -0.8, -1.3, -0.6, -1.0, -0.2, 0.4, 0.0, 0.8, 1.3, 1.0, 1.7, 2.2, 1.9, 2.5,
           2.8, 2.6, 3.0, 2.7, 2.4, 2.6, 2.1, 2.3, 1.8, 2.0, 1.5, 1.1, 1.3, 0.8, 0.0, 0.0]),
    (-40, [1.8, 1.0, 1.5, 0.7, 1.2, 1.6, 0.9, 0.3, 0.8, 0.0, -0.6, 0.1, -0.4, 0.5, 1.0, 0.4, 1.2, 0.6, 0.0, 0.7,
           0.2, -0.4, 0.3, -0.3, -1.0, -0.5, -1.3, -0.7, -1.6, -1.1, -0.4, -0.9, -0.1, 0.6, 0.2, 1.0, 1.6, 1.3, 2.0, 2.4,
           2.2, 2.7, 2.5, 2.9, 2.6, 2.2, 2.4, 1.9, 1.4, 1.6, 1.1, 0.0, 0.0, 0.0]),
    (-40, [-1.2, -2.0, -1.4, -2.3, -1.8, -1.1, -1.6, -0.8, -0.2, -0.9, -0.3, 0.5, -0.1, 0.7, 0.2, 1.0, 0.5, -0.2, 0.4, -0.4,
           -1.1, -0.6, -1.4, -1.9, -1.3, -2.1, -1.6, -1.0, -1.5, -0.7, -1.1, -0.4, 0.3, -0.1, 0.7, 1.2, 0.9, 1.6, 2.1, 1.8,
           2.4, 2.1, 2.6, 2.3, 2.0, 2.2, 1.7, 1.9, 1.4, 1.0, 1.2, 0.7, 0.3, 0.5, 0.0, -0.4, -0.1]),
    (-40, [0.8, -0.1, 0.5, -0.4, 0.2, -0.7, -0.2, -1.0, -0.5, -1.4, -0.9, -1.8, -1.3, -0.6, -1.1, -0.3, -0.8, 0.1, -0.4, 0.4,
           -0.1, 0.7, 0.2, 0.9, 0.4, -0.2, 0.3, -0.5, 0.1, 0.6, 0.3, 1.1, 0.8, 1.5, 1.2, 1.9, 2.4, 2.1, 2.7, 2.5,
           3.0, 2.7, 3.1, 2.8, 2.5, 0.0, 0.0, 0.0, 0.0]),
]

# Assorted panel (all start at -40)
fis1 = [-1.3, -0.4, -0.3, -0.6, -0.9, 0.7, 0.4, -0.2, -0.9, -1.6, -2.6, -3.1, -2.8, -2.2, -1.6, -1.0, -0.5, 0.0, 0.3, 0.95,
        0.95, 1.0, 0.5, -0.2, -0.6, -0.5, -1.1, -1.0, -1.3, -1.9, -1.5, -1.0, -1.0, -0.2, 0.5, 1.0, 1.5, 1.8, 2.0, 2.2,
        2.5, 2.3, 2.2, 2.0, 2.3, 2.2, 2.4, 2.0, 1.8, 2.2, 2.0, 2.35, 2.4, 1.0, -0.5, -1.0, -1.5, -2.0]
ysy6 = [-1.5, -0.5, -0.3, -0.2, 0.0, 0.3, 0.1, -0.6, -1.4, -2.0, -2.0, -2.5, -3.1, -3.3, -2.9, -2.7, -2.3, -2.5, -2.0, -1.5,
        -1.6, -2.1, -1.5, -0.9, -0.5, -1.4, -1.5, -0.3, 1.0, 2.25, 1.2, 1.0, 0.3, 1.2, 2.0, 2.5, 2.7, 3.0, 3.1, 2.8,
        3.0, 2.8, 2.7, 2.6, 2.4, 2.5, 2.3, 2.0, 2.1, 1.6, 2.0, 1.8, 1.4, 0.8]
sec22 = [-1.8, -1.0, -0.2, -0.1, -1.0, -1.6, -1.9, -2.0, -2.5, -2.9, -3.0, -3.3, -3.1, -2.8, -2.8, -2.7, -2.7, -2.6, -2.8, -2.85,
         -2.85, -2.3, -1.9, -1.5, -1.6, -1.0, -0.6, -0.9, -0.5, -0.2, 0.1, 0.3, 0.8, 1.5, 2.0, 2.4, 2.3, 2.7, 3.2, 3.6,
         3.8, 3.3, 2.6, 2.3, 1.8, 1.2, 1.0, 1.3, 2.0, 1.6, 1.5, 1.8, 1.2, 0.4, 0.0, -0.5]
gas1 = [-1.5, -1.6, -1.2, -1.0, -0.8, -0.7, -0.7, -0.75, -0.7, -0.65, -0.65, -0.5, -0.4, -0.4, -0.4, -0.45, -0.45, -1.0, -1.5, -1.8,
        -2.05, -1.6, -1.2, -0.8, -0.5, -0.3, -0.5, -0.8, -0.5, -0.2, 0.0, 0.3, 0.1, 0.1, 0.6, 1.0, 1.4, 1.6, 1.5, 1.9,
        2.2, 2.0, 1.9, 2.4, 2.0, 2.1, 1.9, 2.2, 2.1, 1.4, 1.3, 1.9, 2.0, 2.3]
bcl2 = [-1.0, -1.4, -1.7, -1.2, -0.9, -0.5, -0.6, -0.3, -0.1, 0.3, 0.3, 0.5, 1.0, 0.5, 1.15, 1.1, 1.0, 0.7, 0.5, 0.4,
        0.2, -0.3, -0.5, -0.7, -0.2, 0.3, 0.7, 0.4, 1.2, 1.5, 1.0, 0.9, 0.6, 1.0, 1.3, 1.5, 1.4, 1.3, 1.1, 1.5,
        2.0, 2.5, 2.3, 2.6, 2.4, 2.6, 2.5, 2.0, 1.5, 1.3, 1.5, 1.0, 0.5, -0.5, 0.0]
cytb5 = [-0.5, 0.7, 0.2, 0.6, 0.9, 0.5, 1.45, 1.0, 0.5, 0.35, 1.5, 1.55, 0.4, 0.3, -0.1, -0.6, -0.8, -0.6, -0.1, -0.5,
         0.5, 0.3, 0.0, -0.5, -0.7, -1.3, -1.25, -1.5, -2.4, -2.35, -2.35, -1.8, -1.0, -0.5, 0.2, 1.0, 1.8, 2.4, 2.9, 3.4,
         3.85, 3.85, 3.6, 3.3, 2.8, 2.5, 2.6, 2.3, 2.0, 1.2, 1.4, 0.9, 0.0, 0.0, 0.0, -0.3]
sec61b = [-1.2, -0.8, -0.7, -0.5, -0.4, -0.4, -0.6, -0.9, -1.2, -1.35, -1.4, -1.0, -0.7, -0.6, -0.3, 0.1, 0.1, -0.3, -0.6, -0.9,
          -0.6, -0.5, -0.9, -1.1, -1.05, -0.8, -0.6, -0.9, -0.5, -0.2, -0.3, 0.2, 0.8, 1.5, 2.0, 2.3, 2.7, 2.7, 2.8, 2.9,
          2.95, 2.8, 2.6, 2.75, 2.8, 2.6, 2.5, 2.3, 1.9, 1.7, 1.4, 1.0, 0.4, 0.1, -0.3, -0.8, -1.0, -1.8, 0.0]
vamp = [0.0, 0.4, 0.75, 0.75, 0.75, 0.5, 0.2, -0.1, -0.5, -0.6, -0.7, -0.6, -0.3, -0.4, -0.3, -0.3, -0.6, -1.2, -1.5, -1.7,
        -2.1, -1.7, -2.7, -2.7, -2.2, -1.5, -1.3, -1.0, -0.4, 0.4, 1.4, 2.1, 2.55, 2.65, 2.3, 2.7, 3.3, 3.7, 3.8, 4.05,
        4.3, 3.0, 1.9, 1.3, 0.5, 0.0, 0.0]
assorted_names = ['Fis1', 'Ysy6', 'Sec22', 'Gas1', 'Bcl2', 'CytB5', 'Sec61β', 'VAMP']
assorted_values = [fis1, ysy6, sec22, gas1, bcl2, cytb5, sec61b, vamp]
assorted_colors = ['#ff00ff', '#33dd33', '#00ff00', '#ffe000', '#c8b878', '#b22222', '#556b2f', '#1e9fff']

panels = [
    ('Mitochondria', mito, '#ff00ff'),
    ('Nuclear Envelope', nuclear, '#ff0000'),
    ('ER-Peroxisome', er_perox, '#a8652a'),
    ('ER', er, '#00ff00'),
    ('ER-Golgi', er_golgi, '#ff8000'),
    ('Golgi', golgi, '#800080'),
    ('Golgi-Vacuole', golgi_vac, '#00ffff'),
    ('Vacuole', vacuole, '#a8652a'),
    ('PM', pm, '#0000ff'),
    ('PM Vesicles', pm_ves, '#f88080'),
    ('GPI Anchored', gpi, '#ffea00'),
]

W, H = 1077, 1461
fig = plt.figure(figsize=(W / 100, H / 100), dpi=100)
col_left = [52, 421, 790]
row_top = [32, 402, 773, 1143]
aw, ah = 275, 276
txt = '#222222'


def make_ax(i):
    r, c = divmod(i, 3)
    return fig.add_axes([col_left[c] / W, 1 - (row_top[r] + ah) / H, aw / W, ah / H])


def style(ax, title):
    ax.set_xlim(-40, 40)
    ax.set_ylim(-3, 4.5)
    ax.xaxis.set_major_locator(MultipleLocator(10))
    ax.xaxis.set_minor_locator(MultipleLocator(5))
    ax.yaxis.set_major_locator(MultipleLocator(1))
    ax.yaxis.set_minor_locator(MultipleLocator(0.5))
    ax.tick_params(which='both', direction='in', top=True, right=True, width=1.0, colors='black',
                   labelcolor=txt, labelsize=11.5)
    ax.tick_params(which='major', length=5)
    ax.tick_params(which='minor', length=3)
    ax.tick_params(axis='x', pad=3.5)
    ax.tick_params(axis='y', pad=2.5)
    for s in ax.spines.values():
        s.set_linewidth(1.0)
    ax.set_title(title, fontsize=11.5, color=txt, pad=6)
    ax.set_xlabel('Amino Acid Relative to Max', fontsize=11.5, color=txt, labelpad=4)
    ax.set_ylabel('Hydropathy', fontsize=11.5, color=txt, labelpad=3)


ptp_x = np.arange(ptp1b_start, ptp1b_start + len(ptp1b))

for i, (title, lines, color) in enumerate(panels):
    ax = make_ax(i)
    for start, ys in lines:
        ax.plot(np.arange(start, start + len(ys)), ys, color=color, lw=1.0)
    ax.plot(ptp_x, ptp1b, color='black', lw=2.3)
    style(ax, title)

ax = make_ax(11)
for name, ys, color in zip(assorted_names, assorted_values, assorted_colors):
    ax.plot(np.arange(-40, -40 + len(ys)), ys, color=color, lw=1.0, label=name)
ax.plot(ptp_x, ptp1b, color='black', lw=2.3, label='PTP1B')
ax.plot(np.arange(ptp1b_start, ptp1b_start + len(n412i)), n412i, color='#8c8c8c', lw=2.3,
        ls=(0, (2.5, 1.2)), label='N412I')
style(ax, 'Assorted')
leg = ax.legend(loc='upper right', bbox_to_anchor=(0.96, 0.931), borderaxespad=0, fontsize=6.5,
                handlelength=2.2, handletextpad=0.3, labelspacing=1.25, fancybox=False,
                framealpha=1, edgecolor='black', borderpad=0.6)
leg.get_frame().set_linewidth(0.8)

plt.savefig('out.png', dpi=100)
